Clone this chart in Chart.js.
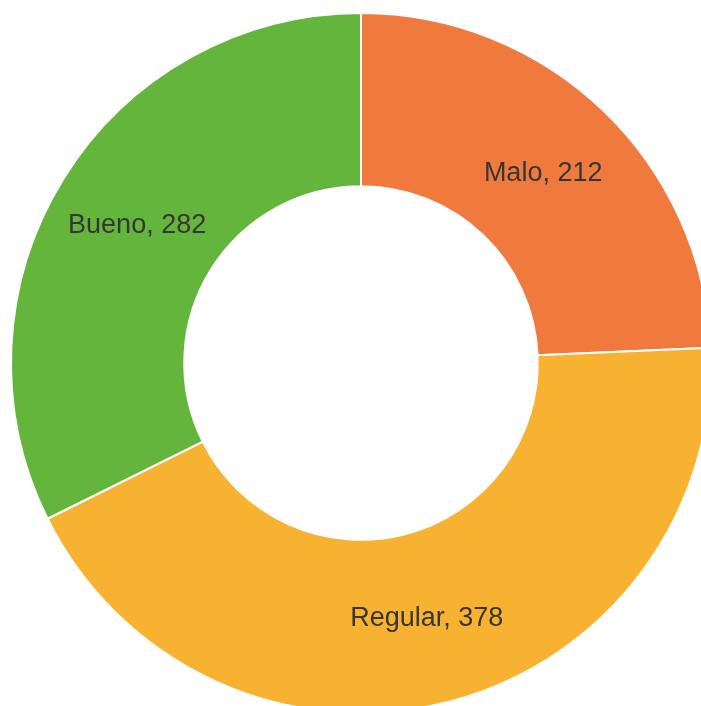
<!DOCTYPE html>
<html>
<head>
<meta charset="utf-8">
<script src="https://cdn.jsdelivr.net/npm/chart.js@4"></script>
<style>
    html, body { margin: 0; padding: 0; background: #ffffff; overflow: hidden; }
    #wrap { position: absolute; left: 0; top: 0; width: 722px; height: 726px; }
</style>
</head>
<body>
<div id="wrap"><canvas id="chart"></canvas></div>
<script>
const categories = ['Malo', 'Regular', 'Bueno'];
const counts = [212, 378, 282];
const sliceColors = ['#F07A3E', '#F8B232', '#64B53B'];

// write "Name, value" in the middle of each slice
const sliceLabels = {
    id: 'sliceLabels',
    afterDatasetsDraw(chart) {
        const ctx = chart.ctx;
        const meta = chart.getDatasetMeta(0);
        ctx.save();
        ctx.font = '27px "Liberation Sans", Arial, sans-serif';
        ctx.fillStyle = '#363636';
        ctx.textAlign = 'center';
        ctx.textBaseline = 'middle';
        meta.data.forEach((arc, i) => {
            const pos = arc.tooltipPosition();
            ctx.fillText(categories[i] + ', ' + counts[i], pos.x, pos.y + 1);
        });
        ctx.restore();
    }
};

new Chart(document.getElementById('chart'), {
    type: 'doughnut',
    data: {
        labels: categories,
        datasets: [{
            data: counts,
            backgroundColor: sliceColors,
            borderColor: '#ffffff',
            borderWidth: 2
        }]
    },
    options: {
        responsive: true,
        maintainAspectRatio: false,
        animation: false,
        cutout: '50.5%',
        layout: { padding: { left: 10, right: 10, top: 12, bottom: 12 } },
        plugins: {
            legend: { display: false },
            tooltip: { enabled: false }
        }
    },
    plugins: [sliceLabels]
});
</script>
</body>
</html>
